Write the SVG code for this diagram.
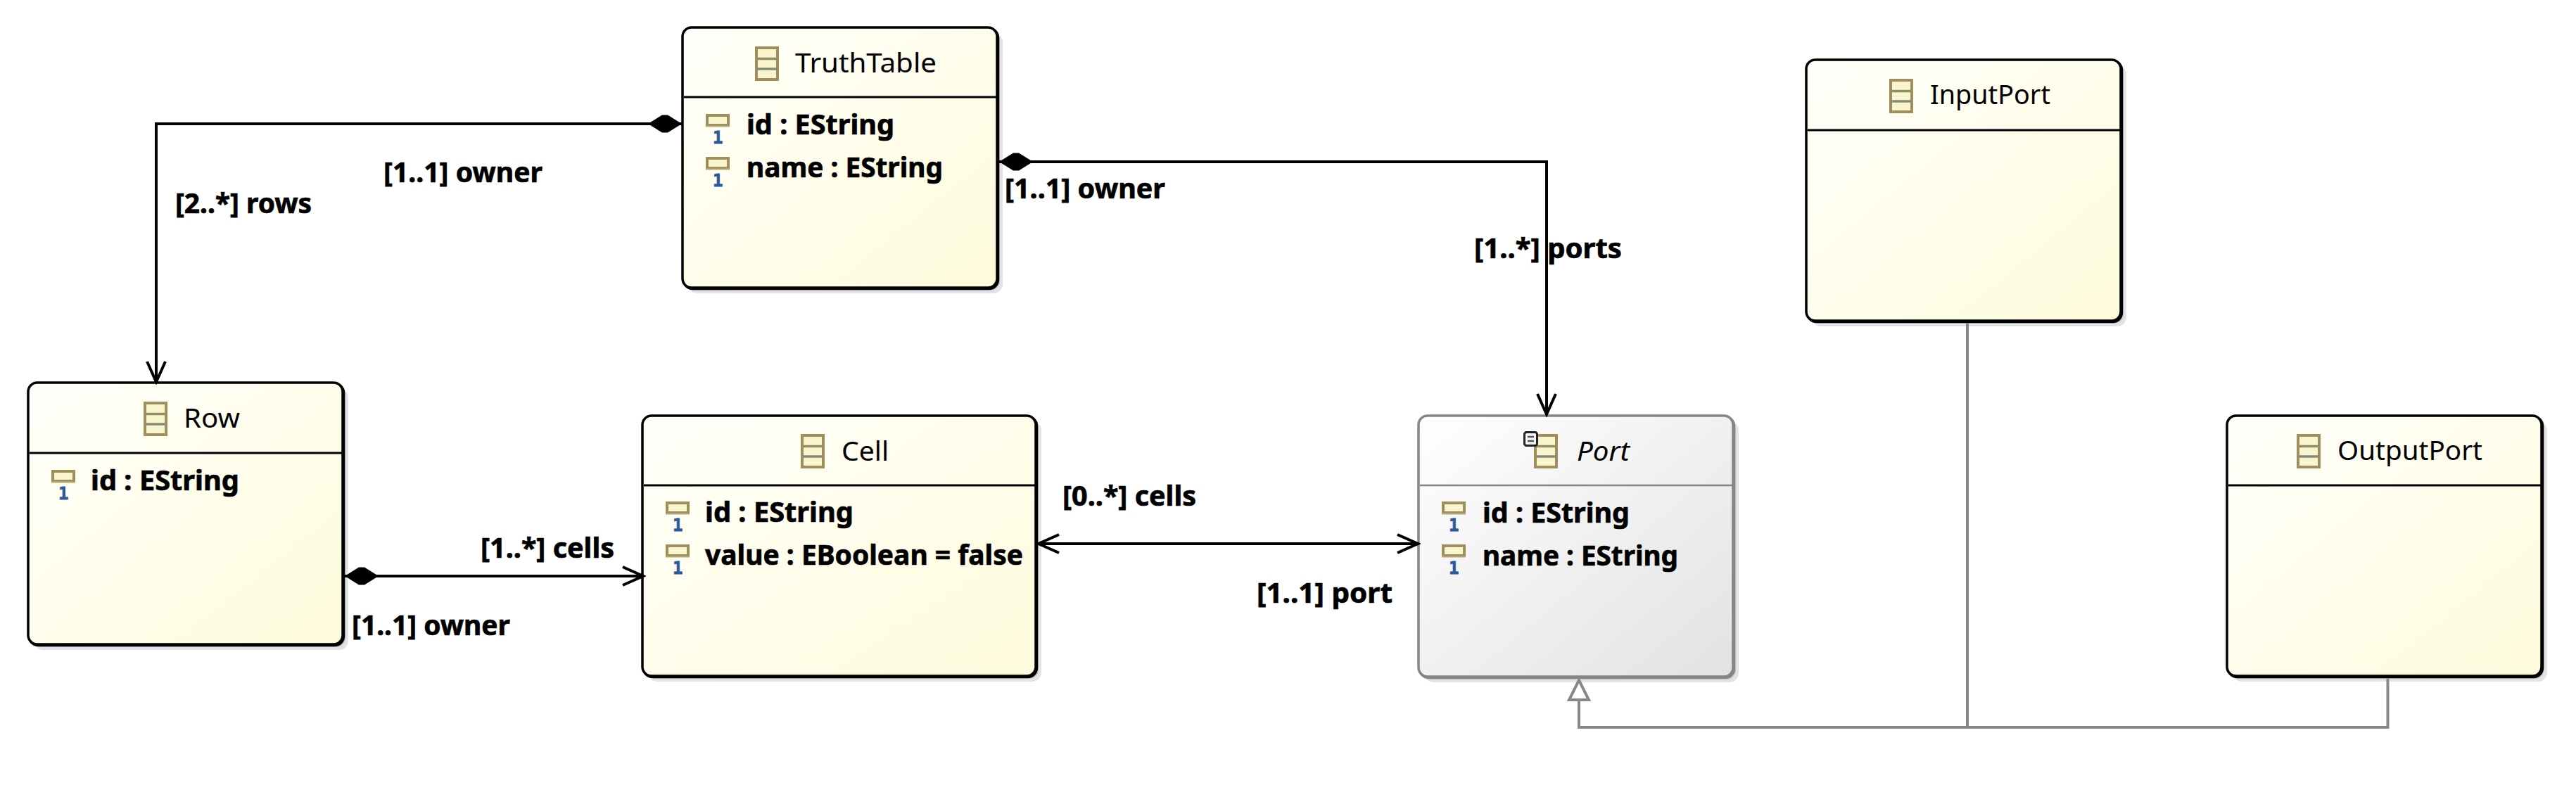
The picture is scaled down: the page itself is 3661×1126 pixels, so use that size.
<svg xmlns="http://www.w3.org/2000/svg" xmlns:xlink="http://www.w3.org/1999/xlink" width="3661" height="1126" viewBox="0 0 3661 1126">
<style>
text{font-family:"Noto Sans","Open Sans","DejaVu Sans",sans-serif;fill:#000}
.t{font-size:39px}
.a{font-size:39px;font-weight:700;stroke:#000;stroke-width:.7}
.l{font-size:39px;font-weight:700;stroke:#000;stroke-width:.7}
.i{font-style:italic}
.m{font-family:"DejaVu Sans Mono",monospace;font-size:24px;font-weight:700;fill:#2a5a9c;stroke:#2a5a9c;stroke-width:.8}
.s1{fill:#e3e3e6;stroke:none}
.s2{fill:#c9c9cf;stroke:none}
.b{fill:url(#y);stroke:#000;stroke-width:3.500}
.bo{fill:#000;stroke:#000;stroke-width:3.500}
.d{stroke:#000;stroke-width:3;fill:none}
.pb{fill:url(#g);stroke:#858585;stroke-width:3.500}
.pbo{fill:#858585;stroke:#858585;stroke-width:3.500}
.pd{stroke:#858585;stroke-width:2.500;fill:none}
.c{fill:none;stroke:#000;stroke-width:4}
.g{fill:none;stroke:#888;stroke-width:4}
</style>
<defs>
<linearGradient id="y" x1="0" y1="0" x2="1" y2="1"><stop offset="0" stop-color="#fffffb"/><stop offset="1" stop-color="#fefbdb"/></linearGradient>
<linearGradient id="g" x1="0" y1="0" x2="1" y2="1"><stop offset="0" stop-color="#ffffff"/><stop offset="1" stop-color="#e2e2e2"/></linearGradient>
<g id="ci"><rect x="2" y="2" width="30" height="45" fill="#f9f6cf" stroke="#a08e5c" stroke-width="4"/><path d="M3 17.500H31" stroke="#968c62" stroke-width="3.500"/><path d="M3 32H31" stroke="#88887a" stroke-width="3.500"/></g>
<g id="ai"><rect x="2" y="2" width="30" height="14" fill="#f9f6cf" stroke="#a08e5c" stroke-width="4"/><path d="M0 17.500H34" stroke="#b7a878" stroke-width="2"/></g>
<marker id="dia" markerUnits="userSpaceOnUse" markerWidth="50" markerHeight="30" refX="0" refY="15" orient="auto"><path d="M0 15L20 2.500H28L48 15L28 27.500H20Z" fill="#000"/></marker>
<marker id="arr" markerUnits="userSpaceOnUse" markerWidth="36" markerHeight="32" refX="33" refY="16" orient="auto-start-reverse"><path d="M3 3L32 16L3 29" fill="none" stroke="#000" stroke-width="4"/></marker>
<marker id="tri" markerUnits="userSpaceOnUse" markerWidth="40" markerHeight="36" refX="34" refY="18" orient="auto"><path d="M34 18L6 4V32Z" fill="#fff" stroke="#888" stroke-width="4"/></marker>
</defs>
<rect width="3661" height="1126" fill="#fff"/>

<g id="TruthTable">
<rect class="s1" x="978" y="47" width="447" height="370" rx="13"/><rect class="s2" x="974" y="43" width="447" height="370" rx="13"/>
<rect class="bo" x="971.500" y="40.500" width="447" height="370" rx="13"/><rect class="b" x="970" y="39" width="447" height="370" rx="13"/>
<path class="d" d="M972 138H1416"/>
<use href="#ci" x="1073" y="66"/><text class="t" x="1130" y="103" textLength="201" lengthAdjust="spacingAndGlyphs">TruthTable</text>
<use href="#ai" x="1003" y="162"/><text class="m" x="1013" y="204">1</text><text class="a" x="1061" y="191" textLength="210" lengthAdjust="spacingAndGlyphs">id : EString</text>
<use href="#ai" x="1003" y="223"/><text class="m" x="1013" y="265">1</text><text class="a" x="1061" y="252" textLength="279" lengthAdjust="spacingAndGlyphs">name : EString</text>
</g>

<g id="Row">
<rect class="s1" x="48" y="552" width="447" height="372" rx="13"/><rect class="s2" x="44" y="548" width="447" height="372" rx="13"/>
<rect class="bo" x="41.500" y="545.500" width="447" height="372" rx="13"/><rect class="b" x="40" y="544" width="447" height="372" rx="13"/>
<path class="d" d="M42 644H486"/>
<use href="#ci" x="204" y="571"/><text class="t" x="261" y="608" textLength="80" lengthAdjust="spacingAndGlyphs">Row</text>
<use href="#ai" x="73" y="668"/><text class="m" x="83" y="710">1</text><text class="a" x="129" y="697" textLength="211" lengthAdjust="spacingAndGlyphs">id : EString</text>
</g>

<g id="Cell">
<rect class="s1" x="921" y="599" width="559" height="370" rx="13"/><rect class="s2" x="917" y="595" width="559" height="370" rx="13"/>
<rect class="bo" x="914.500" y="592.500" width="559" height="370" rx="13"/><rect class="b" x="913" y="591" width="559" height="370" rx="13"/>
<path class="d" d="M915 690H1471"/>
<use href="#ci" x="1138" y="617"/><text class="t" x="1196" y="655" textLength="67" lengthAdjust="spacingAndGlyphs">Cell</text>
<use href="#ai" x="946" y="713"/><text class="m" x="956" y="755">1</text><text class="a" x="1002" y="742" textLength="211" lengthAdjust="spacingAndGlyphs">id : EString</text>
<use href="#ai" x="946" y="774"/><text class="m" x="956" y="816">1</text><text class="a" x="1002" y="803" textLength="452" lengthAdjust="spacingAndGlyphs">value : EBoolean = false</text>
</g>

<g id="Port">
<rect class="s1" x="2024" y="599" width="447" height="371" rx="13"/><rect class="s2" x="2020" y="595" width="447" height="371" rx="13"/>
<rect class="pbo" x="2017.500" y="592.500" width="447" height="371" rx="13"/><rect class="pb" x="2016" y="591" width="447" height="371" rx="13"/>
<path class="pd" d="M2018 690H2462"/>
<use href="#ci" x="2180" y="617"/>
<rect x="2166.500" y="614.500" width="18" height="19" rx="3" fill="#f4f4f4" stroke="#222" stroke-width="3"/><path d="M2171 621H2180M2171 627H2180" stroke="#555" stroke-width="2.500"/>
<text class="t i" x="2241" y="655" textLength="75" lengthAdjust="spacingAndGlyphs">Port</text>
<use href="#ai" x="2049" y="713"/><text class="m" x="2059" y="755">1</text><text class="a" x="2107" y="743" textLength="209" lengthAdjust="spacingAndGlyphs">id : EString</text>
<use href="#ai" x="2049" y="774"/><text class="m" x="2059" y="816">1</text><text class="a" x="2107" y="804" textLength="278" lengthAdjust="spacingAndGlyphs">name : EString</text>
</g>

<g id="InputPort">
<rect class="s1" x="2575" y="93" width="447" height="371" rx="13"/><rect class="s2" x="2571" y="89" width="447" height="371" rx="13"/>
<rect class="bo" x="2568.500" y="86.500" width="447" height="371" rx="13"/><rect class="b" x="2567" y="85" width="447" height="371" rx="13"/>
<path class="d" d="M2569 185H3013"/>
<use href="#ci" x="2685" y="112"/><text class="t" x="2743" y="148" textLength="171" lengthAdjust="spacingAndGlyphs">InputPort</text>
</g>

<g id="OutputPort">
<rect class="s1" x="3173" y="599" width="447" height="370" rx="13"/><rect class="s2" x="3169" y="595" width="447" height="370" rx="13"/>
<rect class="bo" x="3166.500" y="592.500" width="447" height="370" rx="13"/><rect class="b" x="3165" y="591" width="447" height="370" rx="13"/>
<path class="d" d="M3167 690H3611"/>
<use href="#ci" x="3264" y="617"/><text class="t" x="3322" y="654" textLength="206" lengthAdjust="spacingAndGlyphs">OutputPort</text>
</g>

<g id="connectors">
<path class="c" d="M969 176H222V544" marker-start="url(#dia)" marker-end="url(#arr)"/>
<path class="c" d="M1420 230H2198V590" marker-start="url(#dia)" marker-end="url(#arr)"/>
<path class="c" d="M490 819H915" marker-start="url(#dia)" marker-end="url(#arr)"/>
<path class="c" d="M1475 773H2016" marker-start="url(#arr)" marker-end="url(#arr)"/>
<path class="g" d="M3393.500 965V1034H2244V967" marker-end="url(#tri)"/>
<path class="g" d="M2796 459V1034"/>
<text class="l" x="545" y="259" textLength="226" lengthAdjust="spacingAndGlyphs">[1..1] owner</text>
<text class="l" x="249" y="303" textLength="194" lengthAdjust="spacingAndGlyphs">[2..*] rows</text>
<text class="l" x="1428" y="282" textLength="228" lengthAdjust="spacingAndGlyphs">[1..1] owner</text>
<text class="l" x="2095" y="367" textLength="210" lengthAdjust="spacingAndGlyphs">[1..*] ports</text>
<text class="l" x="683" y="793" textLength="190" lengthAdjust="spacingAndGlyphs">[1..*] cells</text>
<text class="l" x="500" y="903" textLength="225" lengthAdjust="spacingAndGlyphs">[1..1] owner</text>
<text class="l" x="1510" y="719" textLength="190" lengthAdjust="spacingAndGlyphs">[0..*] cells</text>
<text class="l" x="1786" y="857" textLength="193" lengthAdjust="spacingAndGlyphs">[1..1] port</text>
</g>
</svg>
